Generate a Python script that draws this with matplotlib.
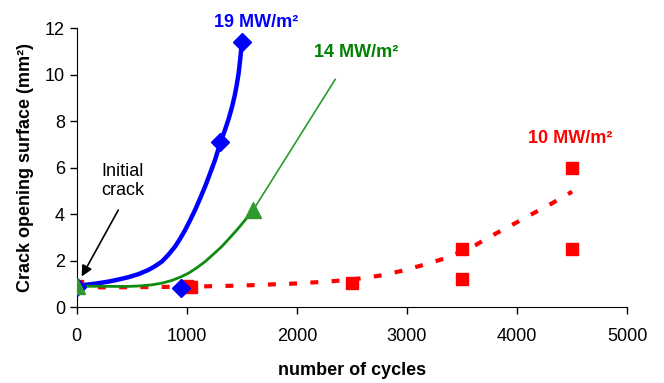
# crack opening surface vs number of cycles, three heat loads
import numpy as np
import matplotlib
matplotlib.use('agg')
import matplotlib.pyplot as plt

plt.rcParams['font.family'] = ['Liberation Sans', 'DejaVu Sans']

# measured points
x19 = [0, 950, 1300, 1500]
y19 = [0.85, 0.82, 7.1, 11.4]
x14 = [0, 1600]
y14 = [0.9, 4.2]
x10 = [0, 1000, 1040, 2500, 3500, 3500, 4500, 4500]
y10 = [0.9, 0.9, 0.88, 1.03, 1.2, 2.5, 2.5, 6.0]

# trend curves
c19x = [0, 75, 180, 288, 380, 470, 560, 651, 710, 773, 830, 894, 940, 985, 1030,
        1075, 1120, 1166, 1210, 1257, 1303, 1345, 1380, 1410, 1435, 1455,
        1472, 1487, 1500]
c19y = [0.92, 0.96, 1.02, 1.10, 1.19, 1.29, 1.42, 1.60, 1.76, 1.96, 2.24, 2.61,
        2.95, 3.32, 3.74, 4.18, 4.67, 5.19, 5.74, 6.34, 7.05, 7.6, 8.1,
        8.6, 9.1, 9.6, 10.1, 10.75, 11.4]
c14x = [0, 200, 439, 560, 682, 780, 864, 940, 1015, 1090, 1166, 1240, 1318, 1390,
        1469, 1530, 1591, 1606]
c14y = [0.9, 0.9, 0.89, 0.91, 0.96, 1.04, 1.15, 1.29, 1.46, 1.69, 1.96, 2.27,
        2.61, 2.98, 3.40, 3.75, 4.11, 4.2]
e14x = [1606, 2348]
e14y = [4.2, 9.8]
c10x = [0, 500, 1000, 1500, 2000, 2333, 2550, 2757, 2950, 3151, 3330, 3500, 3620,
        3727, 3920, 4121, 4310, 4500]
c10y = [0.85, 0.86, 0.88, 0.93, 1.02, 1.12, 1.22, 1.36, 1.56, 1.82, 2.08, 2.4,
        2.66, 2.97, 3.45, 3.97, 4.45, 4.97]

fig = plt.figure(figsize=(6.64, 3.83), dpi=100)
ax = fig.add_axes([0.1155, 0.198, 0.829, 0.728])

ax.plot(c10x, c10y, color='#ff0000', lw=3, ls=(0, (1.9, 3.2)), zorder=2)
ax.plot(c19x, c19y, color='#0000ff', lw=3.2, zorder=3, solid_joinstyle='round')
ax.plot(c14x, c14y, color='#108a10', lw=2, zorder=3, solid_joinstyle='round')
ax.plot(e14x, e14y, color='#2a9a2a', lw=1.2, zorder=3)

ax.plot(x10, y10, 's', color='#ff0000', ms=9, zorder=4)
ax.plot(x19, y19, 'D', color='#0000ff', ms=9.5, zorder=5)
ax.plot(x14, y14, '^', color='#2e9a2e', ms=11, zorder=6)

ax.text(1630, 12.27, '19 MW/m²', color='#0000ff', fontsize=13,
        fontweight='bold', ha='center', va='center')
ax.text(2542, 10.98, '14 MW/m²', color='#008000', fontsize=13,
        fontweight='bold', ha='center', va='center')
ax.text(4485, 7.28, '10 MW/m²', color='#ff0000', fontsize=13,
        fontweight='bold', ha='center', va='center')
ax.text(417, 5.43, 'Initial\ncrack', fontsize=13, ha='center', va='center',
        linespacing=1.15)
ax.annotate('', xy=(45, 1.32), xytext=(378, 4.18),
            arrowprops=dict(arrowstyle='-|>', color='black', lw=1.2,
                            shrinkA=0, shrinkB=0, mutation_scale=16))

ax.set_xlim(0, 5000)
ax.set_ylim(0, 12)
ax.set_xticks([0, 1000, 2000, 3000, 4000, 5000])
ax.set_yticks([0, 2, 4, 6, 8, 10, 12])
ax.tick_params(labelsize=13, direction='out', length=5, width=1)
ax.tick_params(axis='x', pad=10)
for s in ['top', 'right']:
    ax.spines[s].set_visible(False)
ax.spines['left'].set_bounds(0, 12)
ax.set_xlabel('number of cycles', fontsize=13, fontweight='bold', labelpad=12)
ax.set_ylabel('Crack opening surface (mm²)', fontsize=13,
              fontweight='bold', labelpad=8)

fig.savefig('out.png', dpi=100)
